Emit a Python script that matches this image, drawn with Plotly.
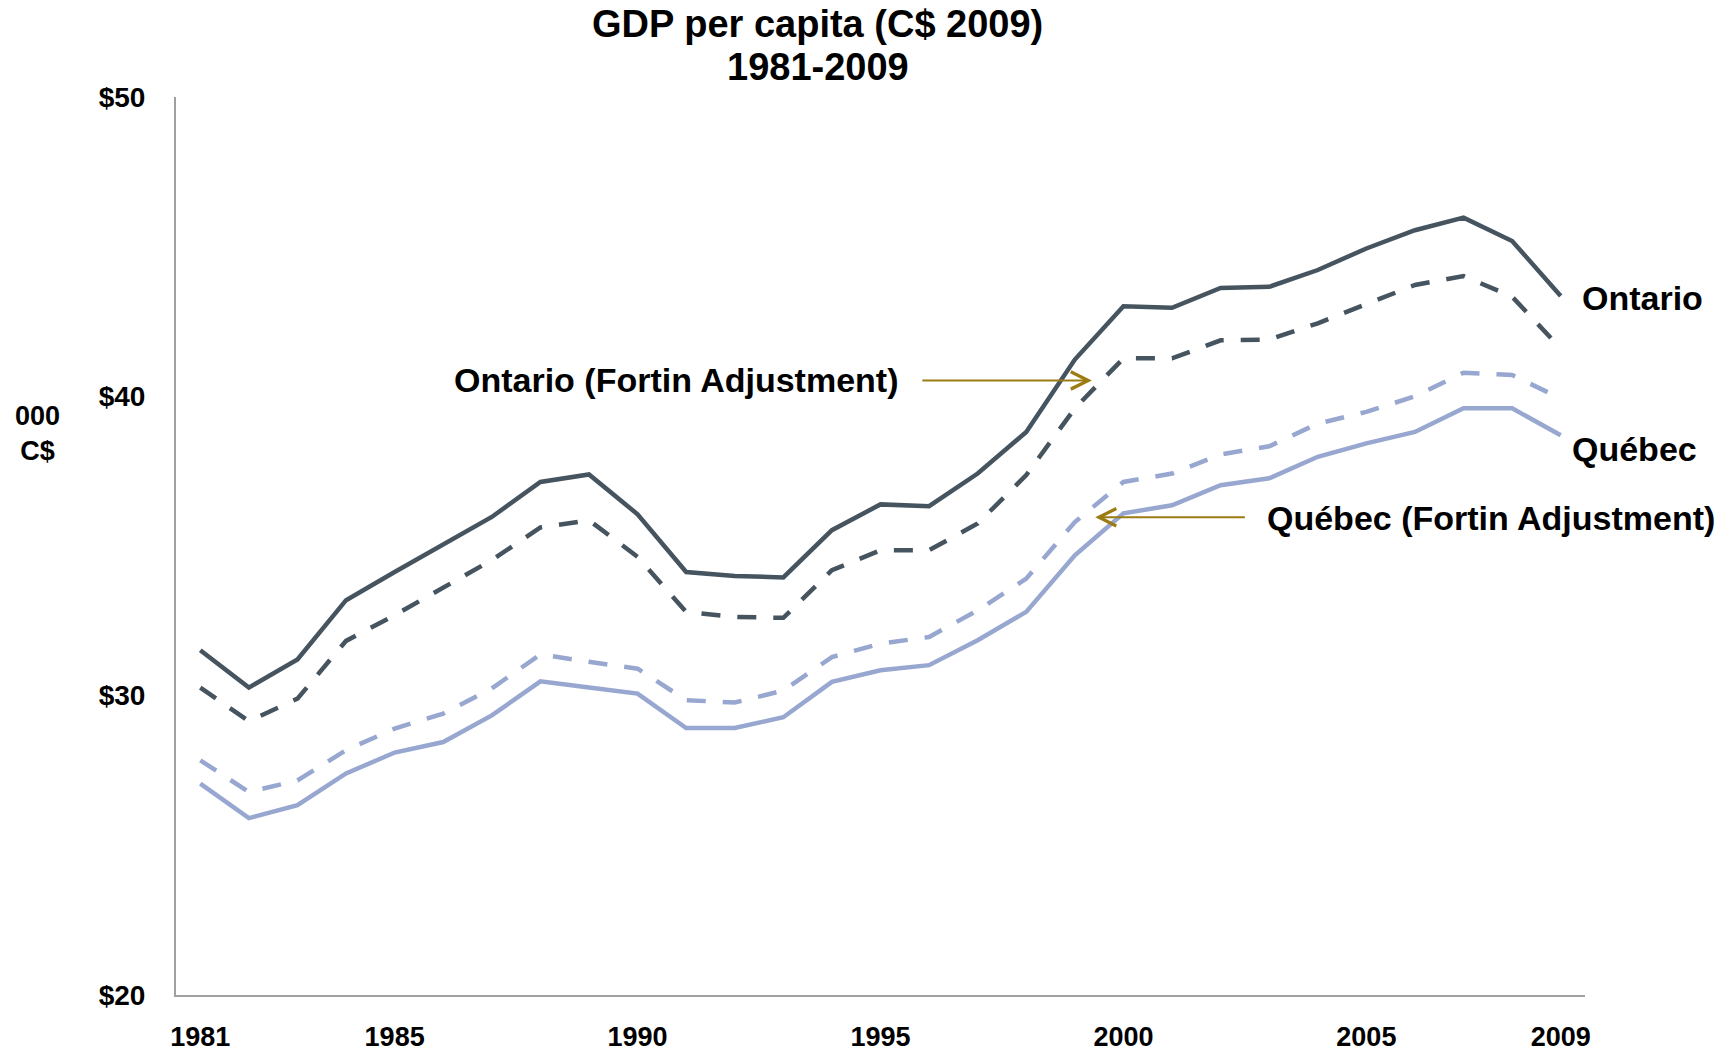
import plotly.graph_objects as go

years = list(range(1981, 2010))

ontario = [31.52, 30.27, 31.21, 33.19, 34.13, 35.03, 35.97, 37.14, 37.39, 36.06,
           34.13, 34.00, 33.95, 35.53, 36.39, 36.33, 37.42, 38.81, 41.23, 43.01,
           42.96, 43.62, 43.66, 44.22, 44.94, 45.55, 45.97, 45.19, 43.35]

ontario_fortin = [30.27, 29.15, 29.90, 31.83, 32.69, 33.63, 34.53, 35.62, 35.86, 34.64,
                  32.80, 32.63, 32.60, 34.19, 34.86, 34.86, 35.75, 37.37, 39.60, 41.27,
                  41.27, 41.87, 41.90, 42.44, 43.10, 43.72, 44.02, 43.33, 41.60]

quebec = [27.06, 25.91, 26.34, 27.40, 28.10, 28.45, 29.34, 30.48, 30.27, 30.07,
          28.92, 28.92, 29.28, 30.46, 30.85, 31.02, 31.85, 32.80, 34.69, 36.09,
          36.36, 37.03, 37.26, 37.98, 38.43, 38.81, 39.60, 39.60, 38.70]

quebec_fortin = [27.84, 26.78, 27.17, 28.18, 28.90, 29.40, 30.24, 31.38, 31.13, 30.90,
                 29.85, 29.77, 30.17, 31.29, 31.74, 31.96, 32.85, 33.91, 35.80, 37.14,
                 37.42, 38.06, 38.33, 39.09, 39.48, 40.00, 40.79, 40.71, 39.93]

x_tick_years = [1981, 1985, 1990, 1995, 2000, 2005, 2009]
y_ticks = [20, 30, 40, 50]

ONT = "#45545f"
QUE = "#97a7d0"
ARROW = "#9c7c12"
FONT = "Liberation Sans, Arial, sans-serif"
LW = 4.5
DASH = "19px,17px"

fig = go.Figure()
fig.add_trace(go.Scatter(x=years, y=quebec_fortin, mode="lines", name="Québec (Fortin Adjustment)",
                         line=dict(color=QUE, width=LW, dash=DASH)))
fig.add_trace(go.Scatter(x=years, y=quebec, mode="lines", name="Québec",
                         line=dict(color=QUE, width=LW)))
fig.add_trace(go.Scatter(x=years, y=ontario_fortin, mode="lines", name="Ontario (Fortin Adjustment)",
                         line=dict(color=ONT, width=LW, dash=DASH)))
fig.add_trace(go.Scatter(x=years, y=ontario, mode="lines", name="Ontario",
                         line=dict(color=ONT, width=LW)))

ann = []
# Title
ann.append(dict(xref="paper", yref="paper", x=0.4556, y=1.0813, text="GDP per capita (C$ 2009)",
                showarrow=False, xanchor="center", yanchor="middle",
                font=dict(size=38, color="black", family=FONT, weight="bold")))
ann.append(dict(xref="paper", yref="paper", x=0.4556, y=1.0334, text="1981-2009",
                showarrow=False, xanchor="center", yanchor="middle",
                font=dict(size=38, color="black", family=FONT, weight="bold")))
# y-axis unit label
ann.append(dict(xref="paper", yref="paper", x=-0.0986, y=0.6257, text="000<br>C$",
                showarrow=False, xanchor="center", yanchor="middle", align="center",
                font=dict(size=27, color="black", family=FONT, weight="bold")))
# Series labels
ann.append(dict(x=2009.39, y=43.29, text="Ontario", showarrow=False, xanchor="left", yanchor="middle",
                font=dict(size=34, color="black", family=FONT, weight="bold")))
ann.append(dict(x=2009.2, y=38.24, text="Québec", showarrow=False, xanchor="left", yanchor="middle",
                font=dict(size=34, color="black", family=FONT, weight="bold")))
ann.append(dict(x=1995.4, y=40.55, text="Ontario (Fortin Adjustment)", showarrow=False,
                xanchor="right", yanchor="middle",
                font=dict(size=34, color="black", family=FONT, weight="bold")))
ann.append(dict(x=2002.92, y=35.93, text="Québec (Fortin Adjustment)", showarrow=False,
                xanchor="left", yanchor="middle",
                font=dict(size=34, color="black", family=FONT, weight="bold")))
# Arrows
ann.append(dict(x=1999.35, y=40.53, ax=1995.83, ay=40.53, axref="x", ayref="y", text="",
                showarrow=True, arrowhead=5, arrowsize=1.7, arrowwidth=2, arrowcolor=ARROW))
ann.append(dict(x=1999.42, y=35.96, ax=2002.53, ay=35.96, axref="x", ayref="y", text="",
                showarrow=True, arrowhead=5, arrowsize=1.7, arrowwidth=2, arrowcolor=ARROW))

fig.update_layout(
    width=1729, height=1053,
    margin=dict(l=176, r=144, t=97, b=58, autoexpand=False),
    paper_bgcolor="white", plot_bgcolor="white",
    showlegend=False,
    font=dict(family=FONT, color="black", weight="bold"),
    annotations=ann,
)
fig.update_xaxes(range=[1980.5, 2009.5], tickvals=x_tick_years, ticktext=[str(v) for v in x_tick_years],
                 showgrid=False, zeroline=False, showline=True, linecolor="#a0a0a0", linewidth=2,
                 ticks="", tickfont=dict(size=27, family=FONT, color="black", weight="bold"),
                 ticklabelstandoff=17, automargin=False)
fig.update_yaxes(range=[20, 50], tickvals=y_ticks, ticktext=[f"${v}" for v in y_ticks],
                 showgrid=False, zeroline=False, showline=True, linecolor="#a0a0a0", linewidth=2,
                 ticks="", tickfont=dict(size=28, family=FONT, color="black", weight="bold"),
                 ticklabelstandoff=23, automargin=False)

fig.write_html("out.html", config={"displayModeBar": False},
               post_script="document.body.style.margin='0';document.body.style.overflow='hidden';")
